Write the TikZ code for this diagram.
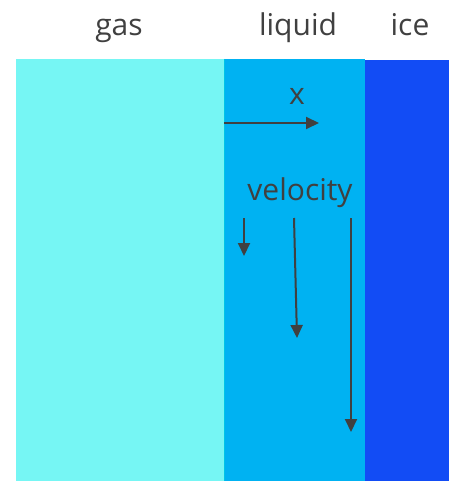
\documentclass[tikz,border=0pt]{standalone}
\usepackage{fontspec}
\setmainfont{Open Sans}
\usetikzlibrary{arrows.meta}
\definecolor{gascol}{RGB}{118,246,244}
\definecolor{liqcol}{RGB}{0,178,242}
\definecolor{icecol}{RGB}{18,76,245}
\definecolor{edgecol}{RGB}{0,196,232}
\definecolor{ink}{RGB}{64,64,64}
\tikzset{
  phase/.style={draw=none, inner sep=0pt, outer sep=0pt, anchor=north west},
  lbl/.style={text=ink, inner sep=0pt, font=\fontsize{30}{35}\selectfont},
  vec/.style={draw=ink, line width=2pt, -{Triangle[length=13pt,width=12pt]}},
}
\begin{document}
\begin{tikzpicture}[x=1pt,y=-1pt]
\useasboundingbox (0,0) rectangle (449,481);
\node[phase, fill=gascol, minimum width=208pt, minimum height=422pt] (gas) at (16,59) {};
\node[phase, fill=liqcol, minimum width=141pt, minimum height=422pt] (liquid) at (224,59) {};
\node[phase, fill=icecol, minimum width=84pt, minimum height=421pt] (ice) at (365,60) {};
\draw[edgecol, line width=1pt] (liquid.north west) -- (liquid.south west);
\node[lbl, anchor=base] (tgas) at (119,36) {gas};
\node[lbl, anchor=base] (tliq) at (298,36) {liquid};
\node[lbl, anchor=base] (tice) at (410,36) {ice};
\node[lbl, anchor=base] (tx) at (297,105) {x};
\node[lbl, anchor=base] (tvel) at (300,200) {velocity};
\coordinate (xs) at (224,123);
\coordinate (xe) at (319,123);
\draw[vec] (xs) -- (xe);
\coordinate (a1s) at (244,218);
\coordinate (a1e) at (244,256);
\coordinate (a2s) at (294,218);
\coordinate (a2e) at (297,338);
\coordinate (a3s) at (351,218);
\coordinate (a3e) at (351,432);
\draw[vec] (a1s) -- (a1e);
\draw[vec] (a2s) -- (a2e);
\draw[vec] (a3s) -- (a3e);
\end{tikzpicture}
\end{document}
